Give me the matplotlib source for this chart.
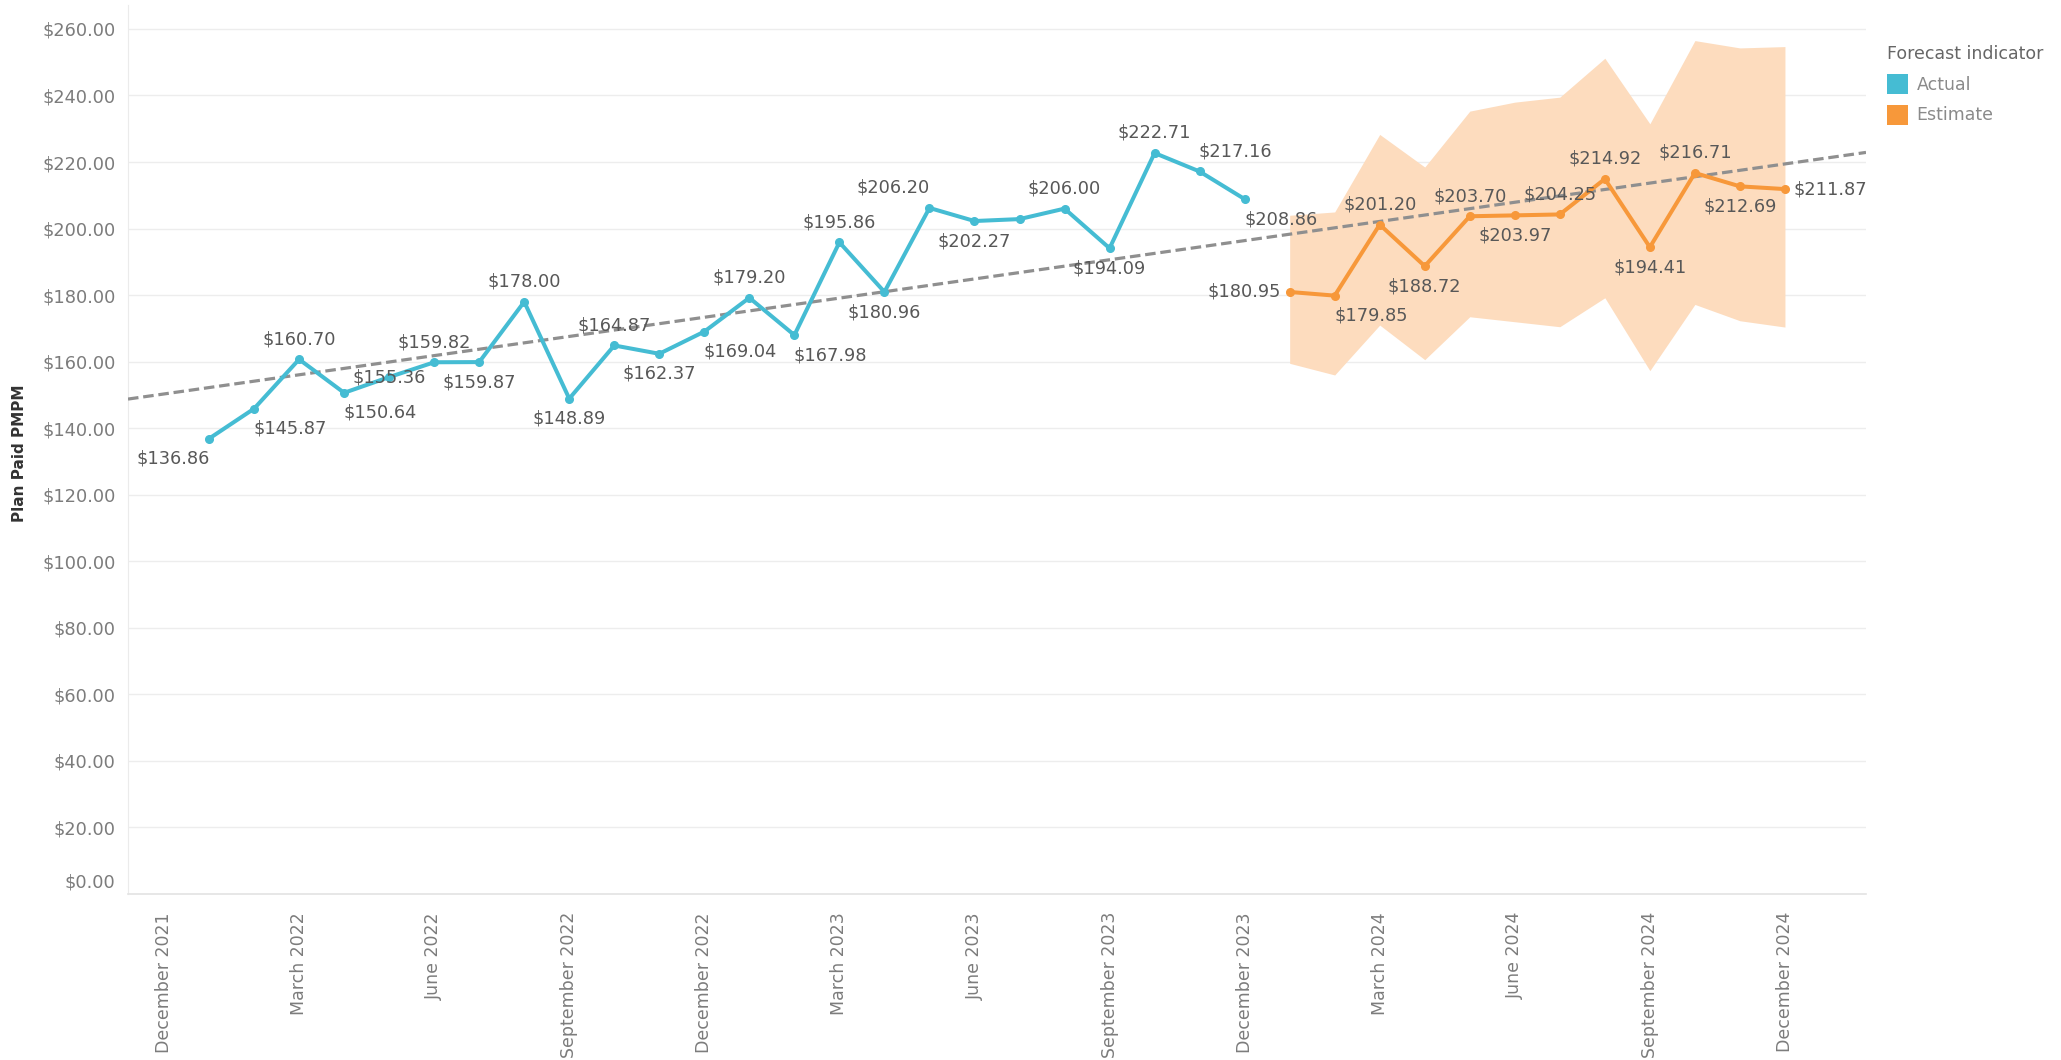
import numpy as np
import pandas as pd
import matplotlib
matplotlib.use("Agg")
import matplotlib.pyplot as plt
from matplotlib.patches import Patch
from matplotlib.ticker import FuncFormatter, MultipleLocator

TEAL = "#45BCD3"
ORANGE = "#F7983A"
BAND = "#FDDCBE"
TREND = "#8F8F8F"
LABEL = "#585858"
TICK = "#7C7C7C"
GRID = "#EDEDED"

plt.rcParams.update({"font.family": "DejaVu Sans", "font.size": 12.8})

# monthly values, Jan 2022 .. Dec 2023 (actual) and Jan 2024 .. Dec 2024 (estimate)
actual_months = pd.period_range("2022-01", "2023-12", freq="M")
actual = [136.86, 145.87, 160.70, 150.64, 155.36, 159.82, 159.87, 178.00, 148.89, 164.87, 162.37, 169.04,
          179.20, 167.98, 195.86, 180.96, 206.20, 202.27, 202.85, 206.00, 194.09, 222.71, 217.16, 208.86]

est_months = pd.period_range("2024-01", "2024-12", freq="M")
estimate = [180.95, 179.85, 201.20, 188.72, 203.70, 203.97, 204.25, 214.92, 194.41, 216.71, 212.69, 211.87]
est_upper = [204.0, 205.0, 228.3, 218.5, 235.3, 238.0, 239.5, 251.2, 231.5, 256.5, 254.3, 254.7]
est_lower = [159.5, 156.0, 171.0, 160.6, 173.5, 172.0, 170.5, 179.2, 157.3, 177.2, 172.3, 170.4]

tick_months = pd.period_range("2021-12", "2024-12", freq="M")[::3]

# label placement: a=above, b=below, c=centre, l=left, r=right, -=none; suffix <,> nudges sideways
actual_pos = ["b<", "b>", "a", "b>", "c", "a", "b", "a", "b", "a", "b", "b>",
              "a", "b>", "a", "b", "a<", "b", "-", "a", "b", "a", "a>", "b>"]
est_pos = ["l", "b>", "a", "b", "a", "b", "a", "a", "b", "a", "b", "r"]

start = actual_months[0]


def idx(months):
    return np.array([(m - start).n for m in months])


xa = idx(actual_months)
xe = idx(est_months)
xt = idx(tick_months)

fig = plt.figure(figsize=(20.61, 10.60), dpi=100)
fig.patch.set_facecolor("white")
ax = fig.add_axes([128 / 2061, 1 - 894 / 1060, 1738 / 2061, 889 / 1060])

ax.fill_between(xe, est_lower, est_upper, color=BAND, linewidth=0, zorder=1)

# trend over all months
x_all = np.concatenate([xa, xe])
y_all = np.array(actual + estimate)
slope, icpt = np.polyfit(x_all, y_all, 1)
x0, x1 = -1.8, xe[-1] + 1.8
ax.plot([x0, x1], [icpt + slope * x0, icpt + slope * x1], color=TREND, lw=2.3,
        dashes=(3.3, 1.5), zorder=3, solid_capstyle="butt")

ax.plot(xa, actual, color=TEAL, lw=2.9, marker="o", ms=5.5, zorder=4)
ax.plot(xe, estimate, color=ORANGE, lw=2.9, marker="o", ms=5.5, zorder=4)


def put_labels(xs, ys, pos):
    for x, y, p in zip(xs, ys, pos):
        if p == "-":
            continue
        dx, dy, ha, va = 0, 0, "center", "center"
        if p[0] == "a":
            dy = 14.5
        elif p[0] == "b":
            dy = -14.5
        elif p[0] == "l":
            dx, ha = -6, "right"
        elif p[0] == "r":
            dx, ha = 6, "left"
        if p.endswith("<"):
            dx = -26
        elif p.endswith(">"):
            dx = 26
        ax.annotate(f"${y:,.2f}", (x, y), xytext=(dx, dy), textcoords="offset points",
                    ha=ha, va=va, color=LABEL, fontsize=12.8, zorder=5)


put_labels(xa, actual, actual_pos)
put_labels(xe, estimate, est_pos)

ax.set_xlim(x0, x1)
ax.set_ylim(0, 267.2)
ax.yaxis.set_major_locator(MultipleLocator(20))
# zero label is drawn separately, a little above its gridline
ax.yaxis.set_major_formatter(FuncFormatter(lambda v, _: f"${v:,.2f}" if v > 0 else ""))
ax.annotate("$0.00", xy=(0, 0), xycoords=ax.get_yaxis_transform(), xytext=(-9, 8),
            textcoords="offset points", ha="right", va="center", color=TICK, fontsize=12.8)
ax.set_xticks(xt, [m.strftime("%B %Y") for m in tick_months], rotation=90, va="top")
ax.tick_params(axis="x", length=0, pad=13, colors=TICK, labelsize=12.5)
ax.tick_params(axis="y", length=0, pad=9, colors=TICK, labelsize=12.8)
ax.grid(axis="y", color=GRID, lw=1.0, zorder=0)
ax.set_axisbelow(True)
for s in ["top", "right"]:
    ax.spines[s].set_visible(False)
ax.spines["left"].set_color("#EBEBEB")
ax.spines["bottom"].set_color("#E3E3E3")
ax.spines["bottom"].set_linewidth(1.2)

fig.text(20 / 2061, 1 - 453 / 1060, "Plan Paid PMPM", rotation=90, ha="center", va="center",
         fontsize=11, fontweight="bold", color="#333333")

handles = [Patch(facecolor=TEAL, edgecolor="none", label="Actual"),
           Patch(facecolor=ORANGE, edgecolor="none", label="Estimate")]
leg = fig.legend(handles=handles, title="Forecast indicator", loc="upper left",
                 bbox_to_anchor=(1887 / 2061, 1 - 45 / 1060), frameon=False, fontsize=12.5,
                 title_fontsize=12.5, handlelength=1.2, handleheight=1.4, handletextpad=0.5,
                 labelspacing=0.62, alignment="left", borderaxespad=0, borderpad=0)
leg.get_title().set_color("#666666")
for t in leg.get_texts():
    t.set_color("#8A8A8A")

fig.savefig("out.png", dpi=100, facecolor="white")
